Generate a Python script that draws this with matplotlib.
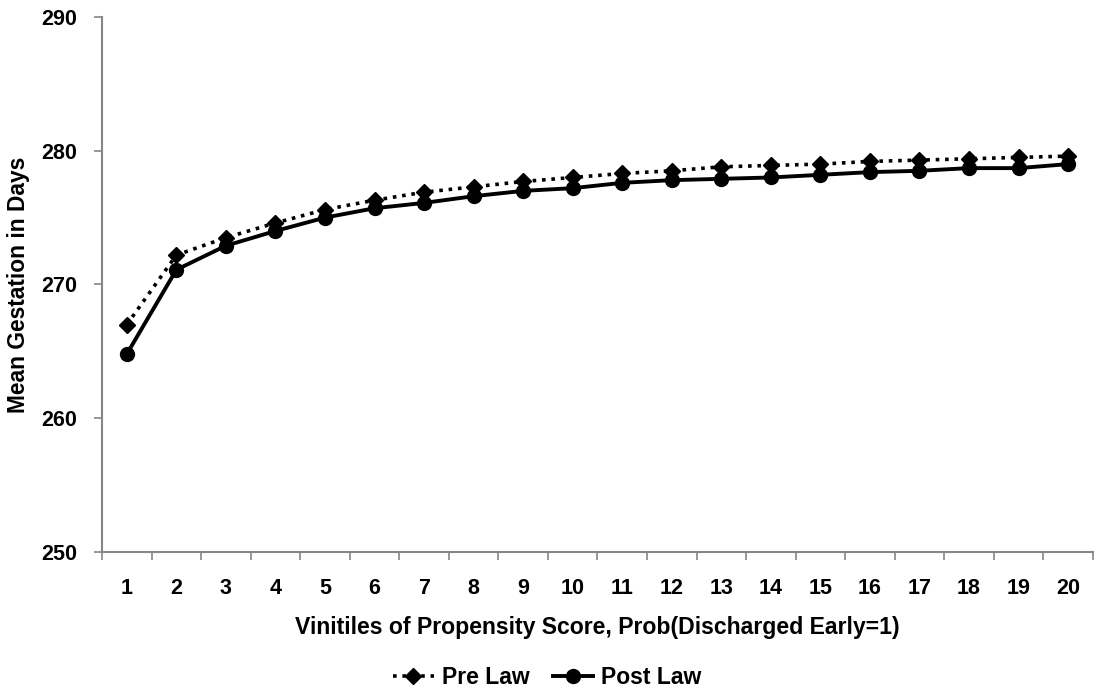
import numpy as np
import matplotlib
matplotlib.use("Agg")
import matplotlib.pyplot as plt

# vintiles 1..20
vintiles = list(range(1, 21))
pre_law = [267.0, 272.2, 273.5, 274.6, 275.6, 276.3, 276.9, 277.3, 277.7, 278.0,
           278.3, 278.5, 278.8, 278.9, 279.0, 279.2, 279.3, 279.4, 279.5, 279.6]
post_law = [264.8, 271.1, 272.9, 274.0, 275.0, 275.7, 276.1, 276.6, 277.0, 277.2,
            277.6, 277.8, 277.9, 278.0, 278.2, 278.4, 278.5, 278.7, 278.7, 279.0]
y_ticks = [250, 260, 270, 280, 290]

plt.rcParams['font.family'] = ['Liberation Sans', 'DejaVu Sans']
plt.rcParams['font.weight'] = 'bold'

fig = plt.figure(figsize=(10.95, 6.96), dpi=100)
ax = fig.add_axes([0.0932, 0.2069, 0.9048, 0.7687])

ax.plot(vintiles, pre_law, color='black', linestyle=(0, (1, 1.6)), linewidth=2.6,
        marker='D', markersize=8, label='Pre Law')
ax.plot(vintiles, post_law, color='black', linestyle='-', linewidth=2.8,
        marker='o', markersize=10, label='Post Law')

ax.set_xlim(0.5, 20.5)
ax.set_ylim(250, 290)
ax.set_yticks(y_ticks)
ax.set_xticks(vintiles)
ax.set_xticks(np.arange(0.5, 21, 1), minor=True)
ax.tick_params(axis='x', which='major', length=0, pad=19, labelsize=15.5)
ax.tick_params(axis='x', which='minor', length=6, width=1.2, color='#868686')
ax.tick_params(axis='y', length=6, width=1.2, color='#868686', pad=12, labelsize=15.5)

for side in ['top', 'right']:
    ax.spines[side].set_visible(False)
for side in ['left', 'bottom']:
    ax.spines[side].set_color('#868686')
    ax.spines[side].set_linewidth(1.5)

ax.set_xlabel('Vinitiles of Propensity Score, Prob(Discharged Early=1)',
              fontsize=16.6, fontweight='bold', labelpad=12)
ax.set_ylabel('Mean Gestation in Days', fontsize=16.4, fontweight='bold', labelpad=8)

fig.legend(loc='center', bbox_to_anchor=(0.5, 0.026), ncol=2, frameon=False,
           fontsize=16.5, handlelength=1.75, columnspacing=1.05, handletextpad=0.35)

fig.savefig('out.png', dpi=100)
